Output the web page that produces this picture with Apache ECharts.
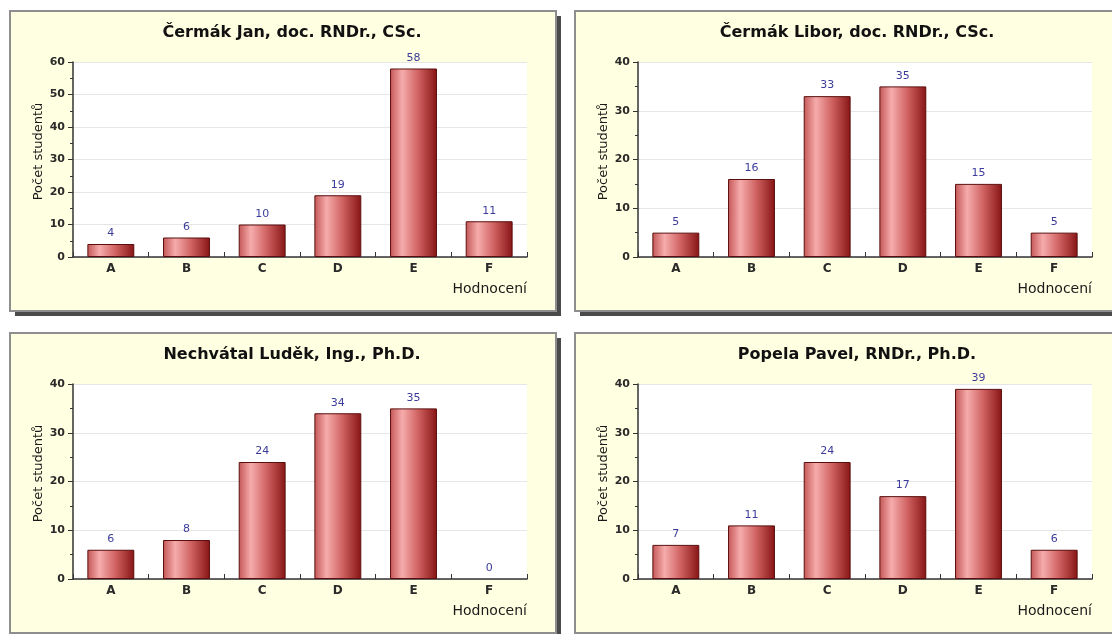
<!DOCTYPE html>
<html>
<head>
<meta charset="utf-8">
<script src="https://cdn.jsdelivr.net/npm/echarts@6/dist/echarts.min.js"></script>
<style>
  html, body { margin: 0; padding: 0; background: #ffffff; }
  #chart { width: 1112px; height: 634px; }
</style>
</head>
<body>
<div id="chart"></div>
<script>
// Grade distribution per examiner
const categories = ['A', 'B', 'C', 'D', 'E', 'F'];
const teachers = [
  'Čermák Jan, doc. RNDr., CSc.',
  'Čermák Libor, doc. RNDr., CSc.',
  'Nechvátal Luděk, Ing., Ph.D.',
  'Popela Pavel, RNDr., Ph.D.'
];
const cermakJan = [4, 6, 10, 19, 58, 11];
const cermakLibor = [5, 16, 33, 35, 15, 5];
const nechvatalLudek = [6, 8, 24, 34, 35, 0];
const popelaPavel = [7, 11, 24, 17, 39, 6];
const yMax = [60, 40, 40, 40];
const yAxisName = 'Počet studentů';
const xAxisName = 'Hodnocení';

const seriesData = [cermakJan, cermakLibor, nechvatalLudek, popelaPavel];

const FONT = '"DejaVu Sans", Verdana, sans-serif';

// panel layout: 2 x 2
const panels = [
  { x: 10, y: 11 },
  { x: 575, y: 11 },
  { x: 10, y: 333 },
  { x: 575, y: 333 }
];
const panelW = 546, panelH = 300;

const barGradient = new echarts.graphic.LinearGradient(0, 0, 1, 0, [
  { offset: 0, color: '#c45656' },
  { offset: 0.26, color: '#f6acac' },
  { offset: 0.6, color: '#d06262' },
  { offset: 1, color: '#871414' }
]);

const graphic = [];
panels.forEach(p => {
  graphic.push({
    type: 'rect', z: -20, silent: true,
    shape: { x: p.x + 5, y: p.y + 5, width: panelW, height: panelH },
    style: { fill: '#4a4a4a' }
  });
  graphic.push({
    type: 'rect', z: -19, silent: true,
    shape: { x: p.x, y: p.y, width: panelW, height: panelH },
    style: { fill: '#ffffe1', stroke: '#8e8e8e', lineWidth: 2 }
  });
});

// empty bars get no outline, only their value label
const toItems = d => d.map(v => (v === 0 ? { value: v, itemStyle: { borderWidth: 0 } } : v));

const option = {
  animation: false,
  backgroundColor: '#ffffff',
  textStyle: { fontFamily: FONT },
  graphic: graphic,
  title: teachers.map((t, i) => ({
    text: t,
    left: panels[i].x + 277,
    top: panels[i].y + 9,
    textAlign: 'center',
    textStyle: { fontFamily: FONT, fontSize: 16, fontWeight: 'bold', color: '#111' }
  })),
  grid: panels.map(p => ({
    left: p.x + 63,
    top: p.y + 51,
    width: 454,
    height: 195,
    show: true,
    backgroundColor: '#ffffff',
    borderWidth: 0,
    containLabel: false
  })),
  xAxis: panels.map((p, i) => ({
    type: 'category',
    gridIndex: i,
    data: categories,
    name: xAxisName,
    nameLocation: 'end',
    nameGap: 0,
    nameTextStyle: {
      fontFamily: FONT, fontSize: 14, color: '#1a1a1a',
      align: 'right', verticalAlign: 'top', padding: [25, 0, 0, 0]
    },
    axisLine: { show: true, lineStyle: { color: '#333', width: 1.5 } },
    axisTick: { show: true, inside: true, length: 5, lineStyle: { color: '#333' } },
    axisLabel: { fontFamily: FONT, fontSize: 12, fontWeight: 'bold', color: '#2a2a2a', margin: 6 },
    splitLine: { show: false }
  })),
  yAxis: panels.map((p, i) => ({
    type: 'value',
    gridIndex: i,
    min: 0,
    max: yMax[i],
    interval: 10,
    name: yAxisName,
    nameLocation: 'middle',
    nameGap: 28,
    nameTextStyle: { fontFamily: FONT, fontSize: 13, color: '#1a1a1a', padding: [0, 0, 0, 16] },
    axisLine: { show: true, lineStyle: { color: '#333', width: 1.5 } },
    axisTick: { show: true, length: 5, lineStyle: { color: '#333' } },
    minorTick: { show: true, splitNumber: 2, length: 3, lineStyle: { color: '#333' } },
    axisLabel: { fontFamily: FONT, fontSize: 11, fontWeight: 'bold', color: '#2a2a2a', margin: 8 },
    splitLine: { show: true, lineStyle: { color: '#e6e6e6', width: 1 } }
  })),
  series: seriesData.map((d, i) => ({
    type: 'bar',
    xAxisIndex: i,
    yAxisIndex: i,
    data: toItems(d),
    barWidth: '62%',
    itemStyle: { color: barGradient, borderColor: '#5a0e0e', borderWidth: 1 },
    label: {
      show: true,
      position: 'top',
      distance: 5,
      fontFamily: FONT,
      fontSize: 11,
      color: '#3c3c9a'
    }
  }))
};

const chart = echarts.init(document.getElementById('chart'), null, { renderer: 'canvas' });
chart.setOption(option);
</script>
</body>
</html>
